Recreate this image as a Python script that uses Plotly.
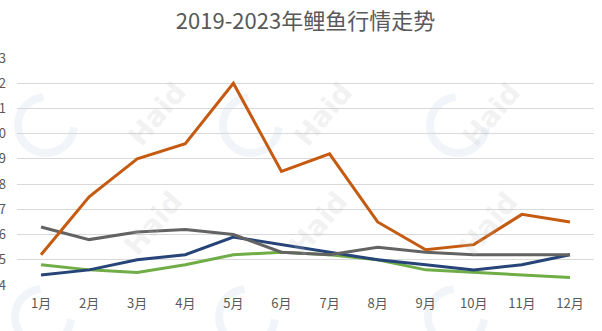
import math
import plotly.graph_objects as go

months = ["1月", "2月", "3月", "4月", "5月", "6月", "7月", "8月", "9月", "10月", "11月", "12月"]
series_orange = [5.2, 7.5, 9.0, 9.6, 12.0, 8.5, 9.2, 6.5, 5.4, 5.6, 6.8, 6.5]
series_gray = [6.3, 5.8, 6.1, 6.2, 6.0, 5.3, 5.2, 5.5, 5.3, 5.2, 5.2, 5.2]
series_blue = [4.4, 4.6, 5.0, 5.2, 5.9, 5.6, 5.3, 5.0, 4.8, 4.6, 4.8, 5.2]
series_green = [4.8, 4.6, 4.5, 4.8, 5.2, 5.3, 5.2, 5.0, 4.6, 4.5, 4.4, 4.3]
y_ticks = [4, 5, 6, 7, 8, 9, 10, 11, 12, 13]
title_text = "2019-2023年鲤鱼行情走势"

W, H = 602, 331
ML, MR, MT, MB = 17, 8, 58, 46
PW, PH = W - ML - MR, H - MT - MB


def px2paper(px, py):
    return (px - ML) / PW, 1 - (py - MT) / PH


fig = go.Figure()
for vals, col in [(series_green, "#70AD47"), (series_blue, "#264478"),
                  (series_gray, "#636363"), (series_orange, "#C55A11")]:
    fig.add_trace(go.Scatter(x=months, y=vals, mode="lines",
                             line=dict(color=col, width=3), showlegend=False,
                             hoverinfo="skip"))

# faint watermarks
wm_centers = [(118, 73), (323, 73), (530, 73), (115, 265), (319, 265), (528, 265)]
annotations = []
shapes = []
for (cx, cy) in wm_centers:
    ax_, ay_ = px2paper(cx, cy)
    annotations.append(dict(x=ax_, y=ay_, xref="paper", yref="paper",
                            text="<b>Haid</b>", showarrow=False, textangle=-50,
                            font=dict(family="DejaVu Sans", size=28, color="rgba(190,190,190,0.20)")))
    ox, oy = cx - 72, cy + 52
    r = 28
    pts = []
    for k in range(0, 41):
        ang = math.radians(95 + k * 6.5)
        pts.append(px2paper(ox + r * math.cos(ang), oy - r * math.sin(ang)))
    path = "M " + " L ".join(f"{x:.4f},{y:.4f}" for x, y in pts)
    shapes.append(dict(type="path", xref="paper", yref="paper", path=path,
                       line=dict(color="rgba(205,218,238,0.28)", width=8), layer="below"))

fig.update_layout(
    width=W, height=H,
    margin=dict(l=ML, r=MR, t=MT, b=MB, autoexpand=False),
    paper_bgcolor="white", plot_bgcolor="white",
    title=dict(text=title_text, x=0.5, xref="paper", xanchor="center", y=1 - 21 / H, yanchor="middle",
               font=dict(family="Noto Sans CJK SC", size=22, color="#595959")),
    xaxis=dict(type="category", range=[-0.5, 11.5], showgrid=False, showline=False, automargin=False,
               ticks="", ticklabelstandoff=9,
               tickfont=dict(family="Noto Sans CJK SC", size=13, color="#595959")),
    yaxis=dict(range=[4, 13], tickvals=y_ticks, ticktext=[str(v) for v in y_ticks], automargin=False,
               showgrid=True, gridcolor="#D9D9D9", gridwidth=1, zeroline=False,
               showline=False, ticks="", ticklabelstandoff=10,
               tickfont=dict(family="Noto Sans CJK SC", size=13, color="#595959")),
    annotations=annotations, shapes=shapes,
)
fig.write_html("out.html")
